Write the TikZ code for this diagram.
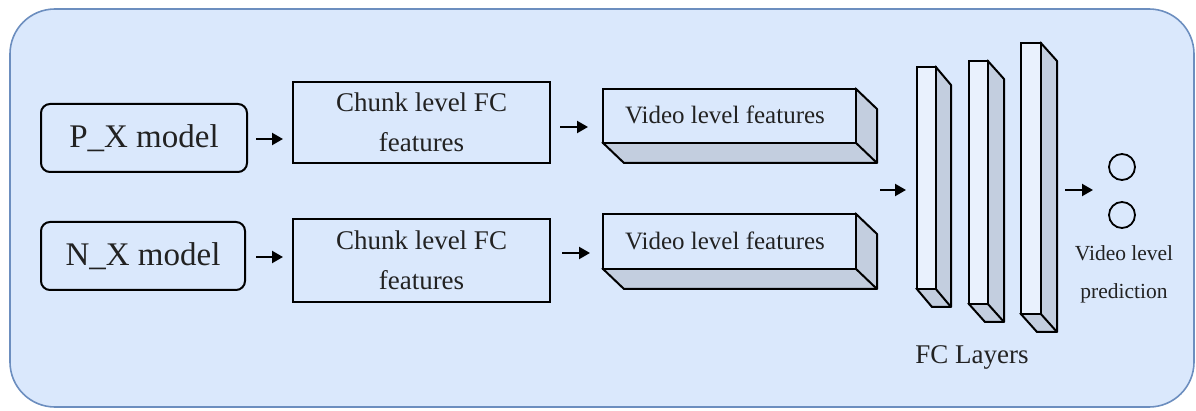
\documentclass[tikz,border=0pt]{standalone}
\usepackage{fontspec}
\setmainfont{Liberation Serif}
\usetikzlibrary{arrows.meta}
\definecolor{bgfill}{HTML}{DAE8FC}
\definecolor{bgline}{HTML}{6C8EBF}
\definecolor{sidefill}{HTML}{C3CEDF}
\definecolor{txt}{HTML}{222222}
\tikzset{
  modelbox/.style={draw=black, line width=2pt, rounded corners=9pt, fill=bgfill, text=txt},
  chunkbox/.style={draw=black, line width=2pt, fill=bgfill, text=txt, align=center},
  conn/.style={line width=2.2pt, -{Triangle[length=11pt,width=12pt]}},
  solid3d/.style={draw=black, line width=2pt, line join=round},
  predcirc/.style={draw=black, line width=1.8pt, circle, minimum size=26pt, inner sep=0pt},
  lbl/.style={text=txt, align=center, inner sep=0pt}
}
\begin{document}
\begin{tikzpicture}[x=1pt,y=-1pt]
\useasboundingbox (0,0) rectangle (1196,411);
% background panel
\draw[bgline, line width=1.6pt, fill=bgfill, rounded corners=45pt] (10,9) rectangle (1194,407);

% model boxes
\node[modelbox, minimum width=206pt, minimum height=68pt, font=\fontsize{33}{36}\selectfont] (px) at (144,138) {P\_X model};
\node[modelbox, minimum width=204pt, minimum height=68pt, font=\fontsize{33}{36}\selectfont] (nx) at (143,256) {N\_X model};

% chunk boxes
\node[chunkbox, minimum width=257pt, minimum height=81pt, font=\fontsize{27}{40}\selectfont] (c1) at (421.5,122.5) {Chunk level FC\\features};
\node[chunkbox, minimum width=257pt, minimum height=83pt, font=\fontsize{27}{40}\selectfont] (c2) at (421.5,260.5) {Chunk level FC\\features};

% video level feature prisms
\newcommand{\prism}[7]{% name, x1,y1,x2,y2,dx,dy
  \fill[sidefill] (#4,#3) -- (#4+#6,#3+#7) -- (#4+#6,#5+#7) -- (#2+#6,#5+#7) -- (#2,#5) -- (#4,#5) -- cycle;
  \draw[solid3d] (#4,#3) -- (#4+#6,#3+#7) -- (#4+#6,#5+#7) -- (#2+#6,#5+#7) -- (#2,#5);
  \draw[solid3d] (#4,#5) -- (#4+#6,#5+#7);
  \node[draw=black, line width=2pt, fill=bgfill, inner sep=0pt, minimum width=#4-#2, minimum height=#5-#3, anchor=north west] (#1) at (#2,#3) {};
}
\prism{v1}{602}{88}{855}{142}{22}{21}
\prism{v2}{602}{213}{855}{268}{22}{21}
\node[lbl, font=\fontsize{25}{28}\selectfont] at (725,115) {Video level features};
\node[lbl, font=\fontsize{25}{28}\selectfont] at (725,241) {Video level features};

% FC layers
\newcommand{\layer}[7]{%
  \fill[sidefill] (#4,#3) -- (#4+#6,#3+#7) -- (#4+#6,#5+#7) -- (#2+#6,#5+#7) -- (#2,#5) -- (#4,#5) -- cycle;
  \draw[solid3d] (#4,#3) -- (#4+#6,#3+#7) -- (#4+#6,#5+#7) -- (#2+#6,#5+#7) -- (#2,#5);
  \draw[solid3d] (#4,#5) -- (#4+#6,#5+#7);
  \node[draw=black, line width=2pt, fill=bgfill!60!white, inner sep=0pt, minimum width=#4-#2, minimum height=#5-#3, anchor=north west] (#1) at (#2,#3) {};
}
\layer{f1}{916}{66}{935}{288}{16}{19}
\layer{f2}{968}{60}{987}{303}{17}{19}
\layer{f3}{1020}{42}{1040}{313}{17}{19}
\node[lbl, font=\fontsize{27}{30}\selectfont] (fcl) at (972,357) {FC Layers};

% prediction
\node[predcirc] (o1) at (1122,167) {};
\node[predcirc] (o2) at (1122,215) {};
\node[lbl, font=\fontsize{21.5}{38}\selectfont] (pred) at (1124,274) {Video level\\prediction};

% connectors
\coordinate (a1s) at (256,139); \coordinate (a1e) at (283,139);
\coordinate (a2s) at (256,257); \coordinate (a2e) at (283,257);
\coordinate (a3s) at (560,127); \coordinate (a3e) at (588,127);
\coordinate (a4s) at (562,253); \coordinate (a4e) at (590,253);
\coordinate (a5s) at (880,190); \coordinate (a5e) at (906,190);
\coordinate (a6s) at (1065,190); \coordinate (a6e) at (1093,190);
\draw[conn] (a1s) -- (a1e);
\draw[conn] (a2s) -- (a2e);
\draw[conn] (a3s) -- (a3e);
\draw[conn] (a4s) -- (a4e);
\draw[conn] (a5s) -- (a5e);
\draw[conn] (a6s) -- (a6e);
\end{tikzpicture}
\end{document}
